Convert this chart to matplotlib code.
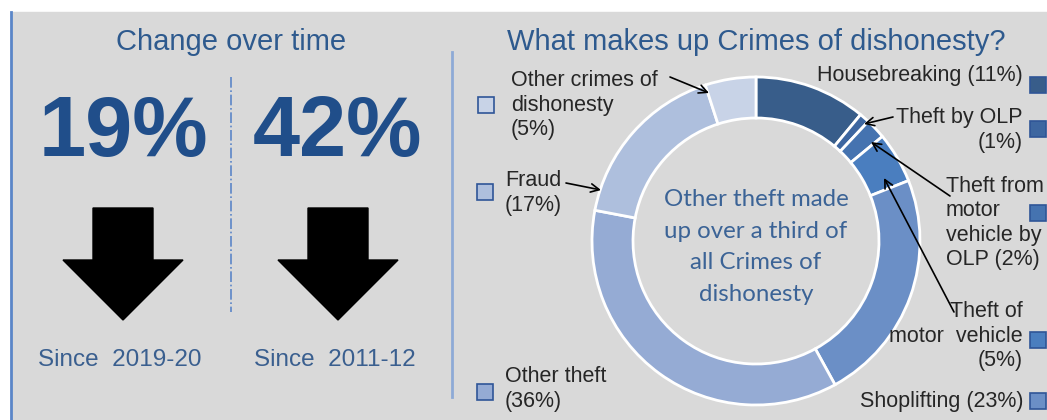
import matplotlib.pyplot as plt
from matplotlib.patches import Rectangle, Polygon

# Change over time
changes = [19, 42]
periods = ['2019-20', '2011-12']

# Crimes of dishonesty breakdown (clockwise from the top)
crimes = ['Housebreaking', 'Theft by OLP', 'Theft from motor vehicle by OLP',
          'Theft of motor vehicle', 'Shoplifting', 'Other theft', 'Fraud',
          'Other crimes of dishonesty']
shares = [11, 1, 2, 5, 23, 36, 17, 5]
label_text = ['Housebreaking ({}%)', 'Theft by OLP\n({}%)',
              'Theft from\nmotor\nvehicle by\nOLP ({}%)',
              'Theft of\nmotor  vehicle\n({}%)', 'Shoplifting ({}%)',
              'Other theft\n({}%)', 'Fraud\n({}%)',
              'Other crimes of\ndishonesty\n({}%)']

colors = ['#385d8a', '#3d66a0', '#4573b0', '#4a7ebf', '#6b8fc6',
          '#95abd4', '#aebfdd', '#c8d3e7']

W, H = 1047, 420
title_col = '#2e5a8e'
num_col = '#204e8a'
text_col = '#262626'
sans = ['Liberation Sans', 'DejaVu Sans']


def pixel_axes(zorder):
    a = fig.add_axes([0, 0, 1, 1], zorder=zorder)
    a.set_xlim(0, W)
    a.set_ylim(H, 0)
    a.axis('off')
    return a


fig = plt.figure(figsize=(W / 100, H / 100), dpi=100)

# background layer
bg = pixel_axes(0)
bg.add_patch(Rectangle((11, 12), W - 11, H - 12, color='#d9d9d9'))

# donut
r = 172
pax = fig.add_axes([(756 - r) / W, (H - 241 - r) / H, 2 * r / W, 2 * r / H], zorder=1)
pax.pie(shares, colors=colors, startangle=90, counterclock=False, radius=164 / r,
        wedgeprops=dict(width=0.25 * 164 / r, edgecolor='white', linewidth=2))
pax.set_xlim(-1, 1)
pax.set_ylim(-1, 1)
pax.set_aspect('equal')
pax.axis('off')

# text and lines on top
ax = pixel_axes(2)
ax.patch.set_alpha(0)
ax.plot([11, 11], [12, H], color='#5b86c8', lw=2)
ax.plot([452, 452], [52, 397], color='#8eaad6', lw=2)
ax.plot([231, 231], [77, 312], color='#5b86c8', lw=1.2, ls='-.')

# left panel
ax.text(231, 42, 'Change over time', ha='center', va='center', fontsize=21,
        color=title_col, family=sans)
for i, (c, p) in enumerate(zip(changes, periods)):
    cx = 123 + i * 215
    ax.text(cx, 134, f'{c}%', ha='center', va='center', fontsize=61,
            fontweight='bold', color=num_col, family=sans)
    arrow = [(cx - 30, 208), (cx + 30, 208), (cx + 30, 260), (cx + 60, 260),
             (cx, 320), (cx - 60, 260), (cx - 30, 260)]
    ax.add_patch(Polygon(arrow, closed=True, color='black'))
    ax.text(cx - 3, 360, f'Since  {p}', ha='center', va='center', fontsize=17.5,
            color='#3a5f8f', family=sans)

# right panel
ax.text(756, 42, 'What makes up Crimes of dishonesty?', ha='center', va='center',
        fontsize=21, color=title_col, family=sans)

ax.text(756, 247, 'Other theft made\nup over a third of\nall Crimes of\ndishonesty',
        ha='center', va='center', fontsize=17.3, linespacing=1.63,
        color='#3b6396', family=['Lato', 'DejaVu Sans'])

# labels: (x, y, ha) and legend square position
label_pos = [(1023, 75, 'right'), (1023, 130, 'right'), (946, 223, 'left'),
             (1023, 336, 'right'), (1023, 402, 'right'), (505, 389, 'left'),
             (505, 193, 'left'), (511, 105, 'left')]
square_pos = [(1030, 77), (1030, 121), (1030, 205), (1030, 332), (1030, 393),
              (477, 384), (477, 184), (478, 97)]
for name, tmpl, s, col, (x, y, ha), (sx, sy) in zip(crimes, label_text, shares, colors,
                                                   label_pos, square_pos):
    ax.text(x, y, tmpl.format(s), ha=ha, va='center', multialignment=ha,
            fontsize=15.5, color=text_col, family=sans)
    ax.add_patch(Rectangle((sx, sy), 16, 16, facecolor=col, edgecolor='#2f5597',
                           lw=1.2))

arrows = [((670, 77), (709, 93)), ((566, 183), (601, 190)),
          ((893, 117), (864, 124)), ((950, 196), (871, 142)),
          ((954, 312), (884, 178))]
for tail, head in arrows:
    ax.annotate('', xy=head, xytext=tail,
                arrowprops=dict(arrowstyle='->,head_length=0.6,head_width=0.3',
                                color='black', lw=1.2, shrinkA=0, shrinkB=0))

fig.savefig('out.png', dpi=100)
